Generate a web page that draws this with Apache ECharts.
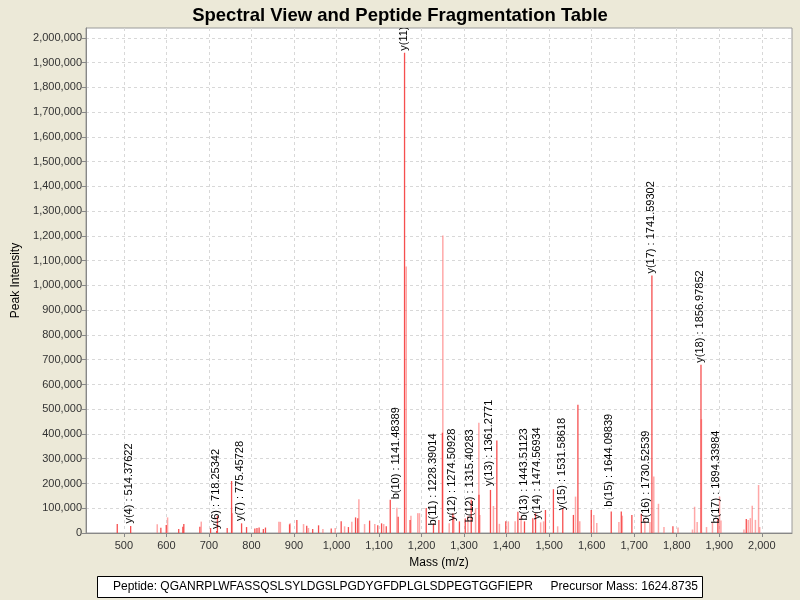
<!DOCTYPE html>
<html>
<head>
<meta charset="utf-8">
<script src="https://cdn.jsdelivr.net/npm/echarts@6/dist/echarts.min.js"></script>
<style>
html,body{margin:0;padding:0;background:#ECE9D8;}
#chart{width:800px;height:600px;}
</style>
</head>
<body>
<div id="chart"></div>
<script>
// ---- data ----
const strongMz  = [484.5,516,587,599.7,629,638.7,641,678.7,703.9,718.25,720,743,753.3,776.8,788.5,808,813,818,828,833,889.6,906.8,930,944,957.8,987.6,1011,1028,1044.8,1050,1077.8,1097,1106,1117,1126.4,1145,1160,1173,1211,1228,1240.7,1249,1273.6,1289,1302.7,1316.8,1335,1362,1377,1398,1426.5,1442,1461.6,1468,1491.3,1510,1532,1557,1567.6,1599,1646,1669.6,1694.5,1716.6,1741.6,1791,1857,1896.7,1963.5];
const strongInt = [36000,28000,21000,32000,16000,25000,36000,25000,20000,8000,69000,20000,210000,39000,24000,18000,20000,22000,16000,22000,35000,53000,29000,16000,31000,18000,47000,24000,63000,60000,50000,31000,39000,27000,134000,66000,1940000,53000,101000,39000,53000,405000,80000,47000,59000,134000,155000,174000,374000,47000,86000,47000,60000,80000,93000,177000,100000,73000,518000,93000,87000,87000,73000,78000,1040000,27000,680000,57000,57000];
const lightMz  = [578.5,602.8,682,755,864.5,868,891,922.5,934,968,997,1019,1036,1052.6,1066,1090,1111,1142,1164,1175,1191,1195,1250,1265,1276,1309,1327,1334.7,1337,1369,1383,1404,1420,1434,1480,1487,1520,1562,1572,1605,1612,1664,1672,1725,1737,1746,1757,1770,1803,1837,1842,1848,1858,1870,1884,1900.6,1904,1958,1968,1973,1977.5,1985,1992.4,1995];
const lightInt = [35000,63000,46000,80000,45000,45000,39000,36000,20000,16000,20000,27000,45000,136000,36000,36000,36000,102000,1077000,70000,80000,80000,1202000,39000,70000,70000,100000,445000,73000,109000,37000,47000,47000,67000,43000,47000,27000,147000,47000,73000,40000,44000,70000,50000,44000,228000,118000,24000,22000,14000,106000,44000,460000,24000,44000,147000,50000,14000,53000,60000,110000,53000,194000,24000];
const annMz    = [514.37622,718.25342,775.45728,1141.48389,1160,1228.39014,1274.50928,1315.40283,1361.2771,1443.51123,1474.56934,1531.58618,1644.09839,1730.52539,1741.59302,1856.97852,1894.33984];
const annInt   = [30000,8000,40000,128000,1940000,22000,40000,35000,182000,42000,46000,84000,98000,30000,1040000,680000,30000];
const annText  = ['y(4) : 514.37622','y(6) : 718.25342','y(7) : 775.45728','b(10) : 1141.48389','y(11)','b(11) : 1228.39014','y(12) : 1274.50928','b(12) : 1315.40283','y(13) : 1361.2771','b(13) : 1443.51123','y(14) : 1474.56934','y(15) : 1531.58618','b(15) : 1644.09839','b(16) : 1730.52539','y(17) : 1741.59302','y(18) : 1856.97852','b(17) : 1894.33984'];
const xTicks = [500,600,700,800,900,1000,1100,1200,1300,1400,1500,1600,1700,1800,1900,2000];
const yTicks = [0,100000,200000,300000,400000,500000,600000,700000,800000,900000,1000000,1100000,1200000,1300000,1400000,1500000,1600000,1700000,1800000,1900000,2000000];
const titleText = 'Spectral View and Peptide Fragmentation Table';
const peptideText = 'Peptide: QGANRPLWFASSQSLSYLDGSLPGDYGFDPLGLSDPEGTGGFIEPR';
const precursorText = 'Precursor Mass: 1624.8735';

const FONT = '"Liberation Sans", Arial, sans-serif';
const zip = (a, b) => a.map((v, i) => [v, b[i]]);

function stickRender(color, width) {
  return function (params, api) {
    const top = api.coord([api.value(0), api.value(1)]);
    const base = api.coord([api.value(0), 0]);
    return {
      type: 'line',
      shape: { x1: base[0], y1: base[1], x2: top[0], y2: top[1] },
      style: { stroke: color, lineWidth: width }
    };
  };
}

const chart = echarts.init(document.getElementById('chart'), null, { renderer: 'canvas' });
const fmt = v => Number(v).toLocaleString('en-US');

chart.setOption({
  backgroundColor: '#ECE9D8',
  animation: false,
  title: {
    text: titleText, left: 'center', top: 1,
    textStyle: { fontFamily: FONT, fontSize: 18.5, fontWeight: 'bold', color: '#000' }
  },
  grid: { left: 86, right: 8, top: 28, bottom: 67, show: true, backgroundColor: '#fff', borderColor: '#9a9a9a', borderWidth: 1 },
  xAxis: {
    type: 'value', min: 411, max: 2071,
    name: 'Mass (m/z)', nameLocation: 'middle', nameGap: 24,
    nameTextStyle: { fontFamily: FONT, fontSize: 12, color: '#000' },
    axisLine: { show: true, lineStyle: { color: '#888' } },
    axisTick: { show: true, length: 4, lineStyle: { color: '#888' }, customValues: xTicks },
    axisLabel: { fontFamily: FONT, fontSize: 11, color: '#333', margin: 7, formatter: fmt, customValues: xTicks },
    splitLine: { show: true, lineStyle: { color: '#d8d8d8', type: [3, 3] } }
  },
  yAxis: {
    type: 'value', min: 0, max: 2040000,
    name: 'Peak Intensity', nameLocation: 'middle', nameGap: 60, nameRotate: 90,
    nameTextStyle: { fontFamily: FONT, fontSize: 12, color: '#000' },
    axisLine: { show: true, lineStyle: { color: '#888' } },
    axisTick: { show: true, length: 4, lineStyle: { color: '#888' }, customValues: yTicks },
    axisLabel: { fontFamily: FONT, fontSize: 11, color: '#333', margin: 4, formatter: fmt, customValues: yTicks },
    splitLine: { show: true, lineStyle: { color: '#d8d8d8', type: [3, 3] } }
  },
  series: [
    { type: 'custom', name: 'light', clip: true, data: zip(lightMz, lightInt), renderItem: stickRender('rgba(255,110,110,0.6)', 1.5), z: 2 },
    { type: 'custom', name: 'strong', clip: true, data: zip(strongMz, strongInt), renderItem: stickRender('rgba(245,60,60,0.9)', 1.3), z: 3 },
    {
      type: 'custom', name: 'annotations', clip: true, z: 5,
      data: annMz.map((m, i) => [m, annInt[i], annText[i]]),
      renderItem: function (params, api) {
        const p = api.coord([api.value(0), api.value(1)]);
        return {
          type: 'text', x: p[0] - 1, y: p[1] - 2, rotation: Math.PI / 2,
          style: { text: annText[params.dataIndex], fontFamily: FONT, fontSize: 11, fill: '#000', align: 'left', verticalAlign: 'middle' }
        };
      }
    }
  ],
  graphic: [
    { type: 'rect', shape: { x: 97.5, y: 576.5, width: 605, height: 21 }, style: { fill: '#fff', stroke: '#000', lineWidth: 1 } },
    { type: 'text', x: 113, y: 587, style: { text: peptideText, fontFamily: FONT, fontSize: 12, fill: '#000', verticalAlign: 'middle' } },
    { type: 'text', x: 698, y: 587, style: { text: precursorText, fontFamily: FONT, fontSize: 12, fill: '#000', align: 'right', verticalAlign: 'middle' } }
  ]
});
</script>
</body>
</html>
